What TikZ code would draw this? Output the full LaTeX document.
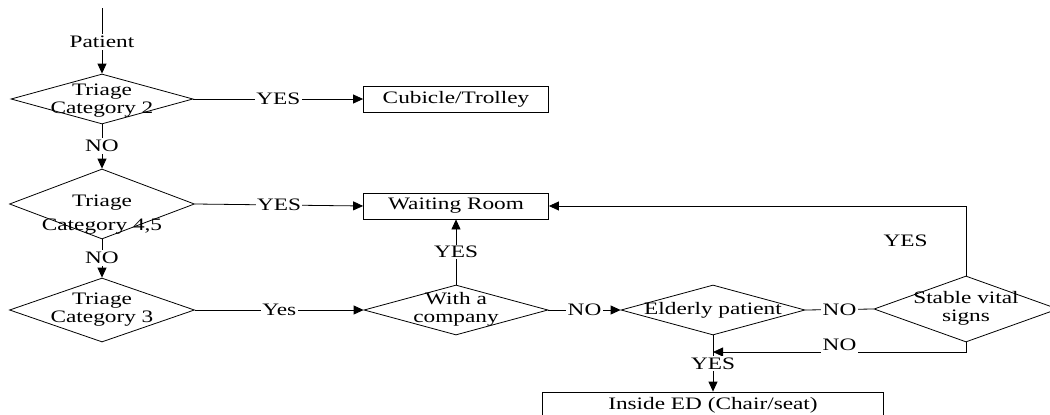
\documentclass[tikz,border=0pt]{standalone}
\usepackage{fontspec}
\setmainfont{Liberation Serif}[FakeStretch=1.33]
\usetikzlibrary{shapes.geometric,arrows.meta}
\newcommand{\dtext}[3][0pt]{\makebox[0pt]{\begin{tabular}{@{}c@{}}#2\\[#1]#3\end{tabular}}}
\begin{document}
\begin{tikzpicture}[x=1pt,y=-1pt,
  font=\fontsize{17.5}{18}\selectfont,
  line width=0.8pt,
  >={Triangle[length=10pt,width=9pt]},
  dia/.style={draw, diamond, inner sep=0pt},
  boxnode/.style={draw, rectangle, inner sep=0pt, minimum width=185pt, minimum height=26pt},
  lab/.style={fill=white, inner sep=1.5pt},
  txt/.style={inner sep=2pt}]
\useasboundingbox (0,0) rectangle (1050,415);
\coordinate (top) at (102,8);
\node[txt] (pat) at (102,42) {Patient};
\node[dia, minimum width=182pt, minimum height=50pt] (d1) at (102,99) {\dtext{\rule{0pt}{16pt}Triage}{Category 2}};
\node[txt] (no1) at (102,146) {NO};
\node[dia, minimum width=185pt, minimum height=70pt] (d2) at (102,204) {\dtext[6pt]{\rule{0pt}{34pt}Triage}{Category 4,5}};
\node[txt] (no2) at (102,258) {NO};
\node[dia, minimum width=185pt, minimum height=64pt] (d3) at (102,310) {\dtext{Triage}{Category 3}};
\node[boxnode] (c1) at (456,99) {Cubicle/Trolley};
\node[boxnode] (c2) at (456,206) {Waiting Room};
\node[dia, minimum width=184pt, minimum height=50pt] (d4) at (456,310) {\dtext{With a}{company}};
\node[dia, minimum width=184pt, minimum height=50pt] (d5) at (713,310) {\makebox[0pt]{Elderly patient}};
\node[dia, minimum width=184pt, minimum height=66pt] (d6) at (966,309) {\dtext{Stable vital}{signs}};
\node[boxnode, minimum width=341pt] (ed) at (713,405) {Inside ED (Chair/seat)};
\coordinate (j) at (713,352);

\draw (top) -- (pat);
\draw[->] (pat) -- (d1.north);
\draw (d1.south) -- (no1);
\draw[->] (no1) -- (d2.north);
\draw (d2.south) -- (no2);
\draw[->] (no2) -- (d3.north);
\draw[->] (d1.east) -- node[lab]{YES} (c1.west);
\draw[->] (d2.east) -- node[lab]{YES} (c2.west);
\draw[->] (d3.east) -- node[lab]{Yes} (d4.west);
\draw[->] (d4.north) -- node[lab]{YES} (c2.south);
\draw[->] (d4.east) -- node[lab]{NO} (d5.west);
\draw (d5.east) -- node[lab]{NO} (d6.west);
\draw[->] (d6.north) |- node[pos=0.25, left=36pt, txt]{YES} (c2.east);
\draw[->] (d6.south) |- node[pos=0.75, lab, yshift=7pt, minimum height=20pt]{NO} (j);
\draw[->] (d5.south) -- node[lab]{YES} (ed.north);
\end{tikzpicture}
\end{document}
